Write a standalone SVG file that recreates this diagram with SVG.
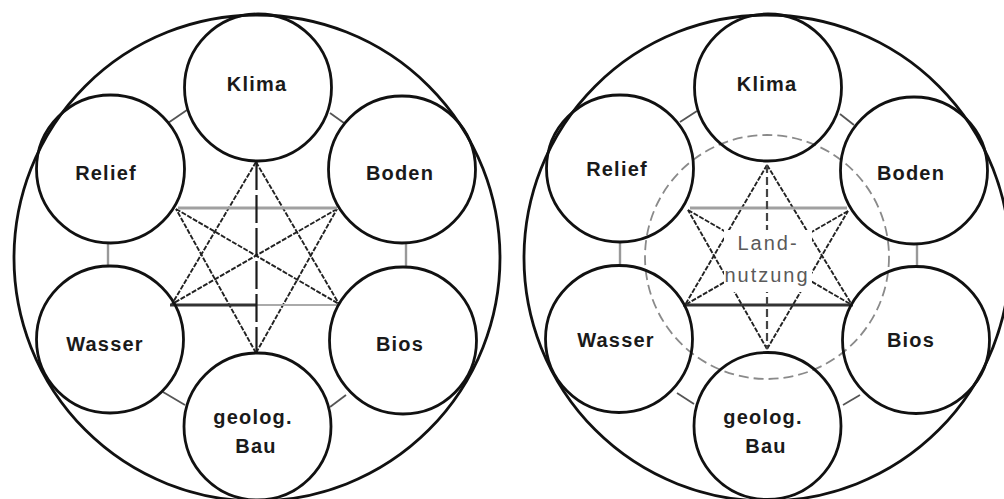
<svg xmlns="http://www.w3.org/2000/svg" width="1004" height="499" viewBox="0 0 1004 499">
<style>
.frame{fill:none;stroke:#111;stroke-width:2.8}
.node{fill:none;stroke:#111;stroke-width:2.8}
.lbl{font-family:"Liberation Sans",Arial,sans-serif;font-size:20px;font-weight:bold;fill:#1a1a1a;text-anchor:middle;letter-spacing:1.2px}
.lu{font-family:"Liberation Sans",Arial,sans-serif;font-size:20px;fill:#5a5a5a;text-anchor:middle;letter-spacing:2px}
.short{stroke:#555;stroke-width:1.8;fill:none}
.shortv{stroke:#999;stroke-width:2.4;fill:none}
.diag{stroke:#222;stroke-width:1.9;stroke-dasharray:5 1.5;fill:none}
.hgrey{stroke:#a0a0a0;stroke-width:3.2;fill:none}
.hgrey2{stroke:#aaa;stroke-width:2.2;fill:none}
.hdark{stroke:#333;stroke-width:2.8;fill:none}
.vert{stroke:#1a1a1a;stroke-width:2.2;stroke-dasharray:28 5;fill:none}
.vert2{stroke:#444;stroke-width:2.2;stroke-dasharray:8 4;fill:none}
.lucirc{fill:none;stroke:#8a8a8a;stroke-width:1.8;stroke-dasharray:10 5}
</style>
<rect x="0" y="0" width="1004" height="499" fill="#fff"/>

<!-- LEFT DIAGRAM -->
<g id="left-frame"><circle class="frame" cx="257" cy="258" r="243"/></g>

<g id="left-connectors">
  <line class="short" x1="168" y1="123" x2="187" y2="110"/>
  <line class="short" x1="330" y1="113" x2="344" y2="123"/>
  <line class="shortv" x1="108" y1="242" x2="108" y2="267"/>
  <line class="shortv" x1="406" y1="242" x2="406" y2="268"/>
  <line class="short" x1="163" y1="392" x2="185" y2="405"/>
  <line class="short" x1="330" y1="407" x2="346" y2="395"/>
  <line class="diag" x1="256" y1="162" x2="172" y2="304"/>
  <line class="diag" x1="256" y1="162" x2="339" y2="304"/>
  <line class="diag" x1="256" y1="353" x2="176" y2="209"/>
  <line class="diag" x1="256" y1="353" x2="337" y2="209"/>
  <line class="diag" x1="176" y1="209" x2="339" y2="304"/>
  <line class="diag" x1="337" y1="209" x2="172" y2="304"/>
  <line class="hgrey" x1="178" y1="208" x2="337" y2="208"/>
  <line class="hdark" x1="170" y1="305" x2="257" y2="305"/>
  <line class="hgrey2" x1="257" y1="305" x2="338" y2="305"/>
  <line class="vert" x1="256.5" y1="162" x2="256.5" y2="353"/>
</g>

<g id="left-klima"><circle class="node" cx="258" cy="87.5" r="73.5"/><text class="lbl" x="257" y="91">Klima</text></g>
<g id="left-relief"><circle class="node" cx="110.5" cy="169" r="74"/><text class="lbl" x="106" y="180">Relief</text></g>
<g id="left-boden"><circle class="node" cx="402" cy="169.5" r="73.5"/><text class="lbl" x="400" y="180">Boden</text></g>
<g id="left-wasser"><circle class="node" cx="110" cy="339.5" r="73.5"/><text class="lbl" x="105" y="351">Wasser</text></g>
<g id="left-bios"><circle class="node" cx="403" cy="340.5" r="73.5"/><text class="lbl" x="400" y="351">Bios</text></g>
<g id="left-geolog"><circle class="node" cx="257.5" cy="426.5" r="73.5"/><text class="lbl" x="253" y="424">geolog.</text><text class="lbl" x="256" y="453">Bau</text></g>

<!-- RIGHT DIAGRAM -->
<g id="right-frame"><circle class="frame" cx="767" cy="258" r="243"/></g>

<g id="right-connectors">
  <line class="short" x1="680" y1="122" x2="697" y2="111"/>
  <line class="short" x1="840" y1="114" x2="854" y2="125"/>
  <line class="shortv" x1="620" y1="242" x2="620" y2="266"/>
  <line class="shortv" x1="917" y1="243" x2="917" y2="267"/>
  <line class="short" x1="677" y1="393" x2="694" y2="404"/>
  <line class="short" x1="843" y1="405" x2="860" y2="395"/>
  <line class="diag" x1="767" y1="165" x2="685" y2="305"/>
  <line class="diag" x1="767" y1="165" x2="852" y2="305"/>
  <line class="diag" x1="767" y1="349" x2="688" y2="210"/>
  <line class="diag" x1="767" y1="349" x2="848" y2="211"/>
  <line class="diag" x1="688" y1="210" x2="852" y2="305"/>
  <line class="diag" x1="848" y1="211" x2="685" y2="305"/>
  <line class="hgrey" x1="690" y1="208" x2="847" y2="208"/>
  <line class="hdark" x1="683" y1="305" x2="853" y2="305"/>
  <line class="vert2" x1="767" y1="165" x2="767" y2="349"/>
</g>

<g id="right-landnutzung">
  <circle class="lucirc" cx="767" cy="257" r="122"/>
  <rect x="724" y="230" width="88" height="62" fill="#fff"/>
  <text class="lu" x="768" y="250">Land-</text>
  <text class="lu" x="767" y="282">nutzung</text>
</g>

<g id="right-klima"><circle class="node" cx="768" cy="87.5" r="73.5"/><text class="lbl" x="767" y="91">Klima</text></g>
<g id="right-relief"><circle class="node" cx="620" cy="168.5" r="73.5"/><text class="lbl" x="617" y="176">Relief</text></g>
<g id="right-boden"><circle class="node" cx="914" cy="170.5" r="73.5"/><text class="lbl" x="911" y="180">Boden</text></g>
<g id="right-wasser"><circle class="node" cx="619" cy="339" r="73.5"/><text class="lbl" x="616" y="347">Wasser</text></g>
<g id="right-bios"><circle class="node" cx="916" cy="340" r="73.5"/><text class="lbl" x="911" y="347">Bios</text></g>
<g id="right-geolog"><circle class="node" cx="767.5" cy="426" r="73.5"/><text class="lbl" x="763" y="424">geolog.</text><text class="lbl" x="766" y="453">Bau</text></g>
</svg>
